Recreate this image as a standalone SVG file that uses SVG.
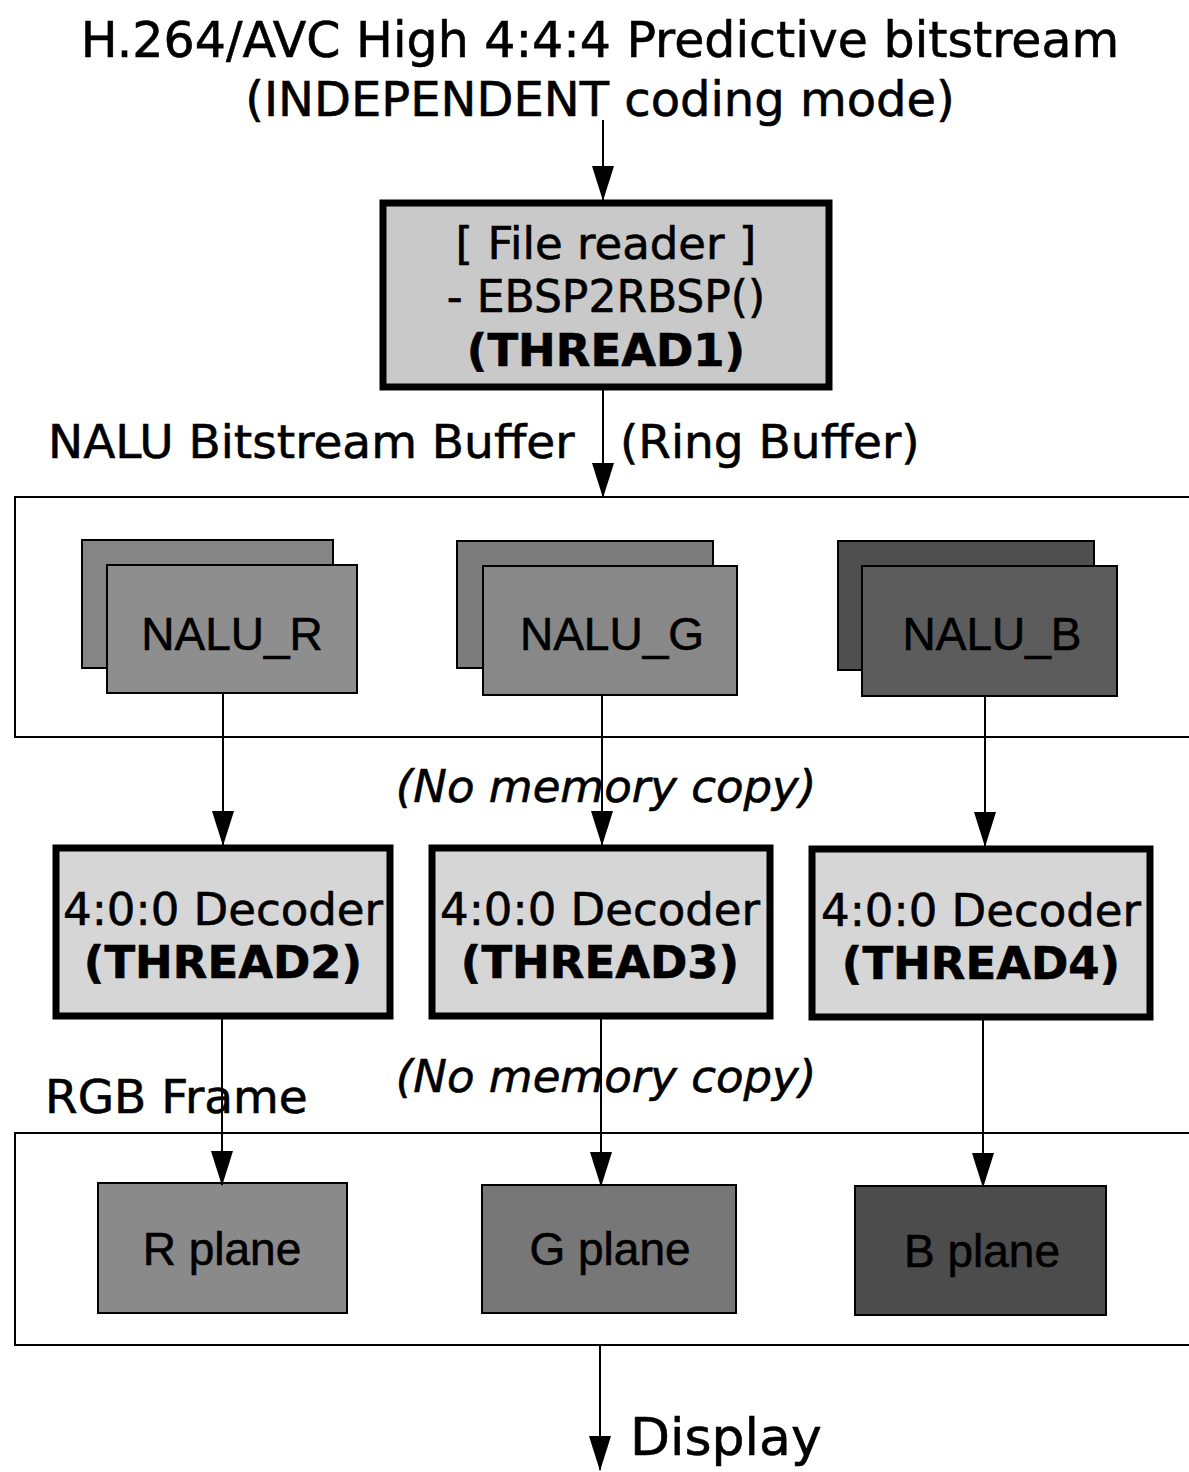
<svg xmlns="http://www.w3.org/2000/svg" width="1189" height="1472" viewBox="0 0 1189 1472">
<style>
.t{font-family:"DejaVu Sans","Liberation Sans",sans-serif;fill:#000;stroke:#000;stroke-width:0.6}
.a{font-family:"Liberation Sans","DejaVu Sans",sans-serif;fill:#000;stroke:#000;stroke-width:0.6}
.b{font-weight:bold}
.i{font-style:italic}
.thick{stroke:#000;stroke-width:7}
.thin{fill:none;stroke:#000;stroke-width:2}
.conn{stroke:#000;stroke-width:2;fill:none;marker-end:url(#ah)}
.sh{stroke:#000;stroke-width:2}
</style>
<defs>
<marker id="ah" viewBox="0 -12 36 24" refX="34" refY="0" markerWidth="36" markerHeight="24" markerUnits="userSpaceOnUse" orient="auto">
<path d="M0,-11 L35,0 L0,11 z" fill="#000"/>
</marker>
</defs>
<rect width="1189" height="1472" fill="#fff"/>

<g id="title">
<text class="t" x="600" y="57" font-size="49" text-anchor="middle">H.264/AVC High 4:4:4 Predictive bitstream</text>
<text class="t" x="600" y="116" font-size="48" text-anchor="middle">(INDEPENDENT coding mode)</text>
</g>

<g id="file-reader">
<rect x="383" y="203" width="446" height="184" fill="#c9c9c9" class="thick"/>
<text class="t" x="606" y="259" font-size="45" text-anchor="middle">[ File reader ]</text>
<text class="t" x="606" y="312" font-size="44" text-anchor="middle">- EBSP2RBSP()</text>
<text class="t b" x="606" y="366" font-size="45" text-anchor="middle">(THREAD1)</text>
</g>

<g id="nalu-buffer">
<text class="t" x="48" y="458" font-size="47">NALU Bitstream Buffer</text>
<text class="t" x="620" y="458" font-size="47">(Ring Buffer)</text>
<rect x="15" y="497" width="1180" height="240" class="thin"/>
</g>

<g id="nalu-r">
<rect x="82" y="540" width="251" height="128" fill="#858585" class="sh"/>
<rect x="107" y="565" width="250" height="128" fill="#8e8e8e" class="sh"/>
<text class="a" x="232" y="650" font-size="46" text-anchor="middle">NALU_R</text>
</g>
<g id="nalu-g">
<rect x="457" y="541" width="256" height="127" fill="#7c7c7c" class="sh"/>
<rect x="483" y="566" width="254" height="129" fill="#888" class="sh"/>
<text class="a" x="612" y="650" font-size="46" text-anchor="middle">NALU_G</text>
</g>
<g id="nalu-b">
<rect x="838" y="541" width="256" height="129" fill="#4f4f4f" class="sh"/>
<rect x="862" y="566" width="255" height="130" fill="#5c5c5c" class="sh"/>
<text class="a" x="992" y="650" font-size="46" text-anchor="middle">NALU_B</text>
</g>

<g id="labels">
<text class="t i" x="606" y="802" font-size="45" text-anchor="middle">(No memory copy)</text>
<text class="t i" x="606" y="1092" font-size="45" text-anchor="middle">(No memory copy)</text>
</g>

<g id="decoder-2">
<rect x="56" y="848" width="334" height="168" fill="#d6d6d6" class="thick"/>
<text class="t" x="223" y="925" font-size="45" text-anchor="middle">4:0:0 Decoder</text>
<text class="t b" x="223" y="978" font-size="45" text-anchor="middle">(THREAD2)</text>
</g>
<g id="decoder-3">
<rect x="432" y="848" width="338" height="168" fill="#d6d6d6" class="thick"/>
<text class="t" x="600" y="925" font-size="45" text-anchor="middle">4:0:0 Decoder</text>
<text class="t b" x="600" y="978" font-size="45" text-anchor="middle">(THREAD3)</text>
</g>
<g id="decoder-4">
<rect x="812" y="849" width="338" height="168" fill="#d6d6d6" class="thick"/>
<text class="t" x="981" y="926" font-size="45" text-anchor="middle">4:0:0 Decoder</text>
<text class="t b" x="981" y="979" font-size="45" text-anchor="middle">(THREAD4)</text>
</g>

<g id="rgb-frame">
<text class="t" x="45" y="1113" font-size="47">RGB Frame</text>
<rect x="15" y="1133" width="1180" height="212" class="thin"/>
</g>
<g id="r-plane">
<rect x="98" y="1183" width="249" height="130" fill="#8a8a8a" class="sh"/>
<text class="a" x="222" y="1265" font-size="46" text-anchor="middle">R plane</text>
</g>
<g id="g-plane">
<rect x="482" y="1185" width="254" height="128" fill="#777" class="sh"/>
<text class="a" x="610" y="1265" font-size="46" text-anchor="middle">G plane</text>
</g>
<g id="b-plane">
<rect x="855" y="1186" width="251" height="129" fill="#4c4c4c" class="sh"/>
<text class="a" x="982" y="1267" font-size="46" text-anchor="middle">B plane</text>
</g>

<g id="display">
<text class="t" x="630" y="1455" font-size="52">Display</text>
</g>

<g id="connectors">
<line x1="603" y1="120" x2="603" y2="200" class="conn"/>
<line x1="603" y1="390" x2="603" y2="497" class="conn"/>
<line x1="223" y1="693" x2="223" y2="845" class="conn"/>
<line x1="602" y1="695" x2="602" y2="845" class="conn"/>
<line x1="985" y1="696" x2="985" y2="846" class="conn"/>
<line x1="222" y1="1019" x2="222" y2="1185" class="conn"/>
<line x1="601" y1="1019" x2="601" y2="1186" class="conn"/>
<line x1="983" y1="1020" x2="983" y2="1187" class="conn"/>
<line x1="600" y1="1345" x2="600" y2="1470" class="conn"/>
</g>
</svg>
